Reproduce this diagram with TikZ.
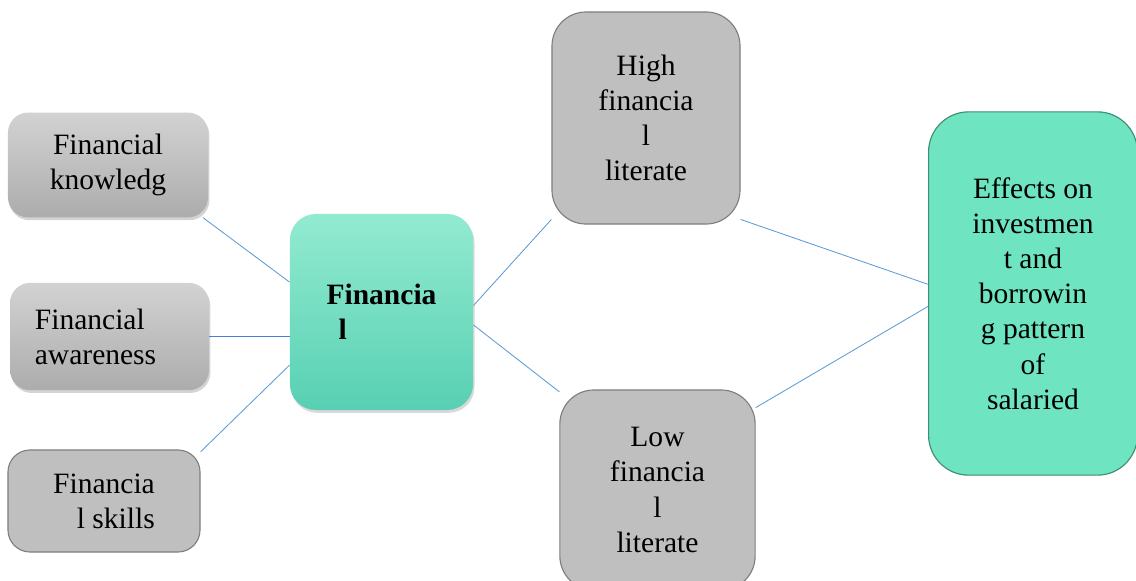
\documentclass[tikz,border=0pt]{standalone}
\usepackage{fontspec}
\setmainfont{Liberation Serif}
\usepackage{tikz}
\usetikzlibrary{shadows,backgrounds}
\definecolor{boxgray}{HTML}{BFBFBF}
\definecolor{edgegray}{HTML}{7F7F7F}
\definecolor{mint}{HTML}{6EE4C0}
\definecolor{mintedge}{HTML}{3E8E74}
\definecolor{linkblue}{HTML}{5B9BD5}
\tikzset{
  graybox/.style={fill=boxgray,draw=edgegray,line width=0.8pt,rounded corners=0.55cm,inner sep=0pt},
  shadebox/.style={top color=gray!35,bottom color=gray!65,rounded corners=0.5cm,inner sep=0pt,
    drop shadow={shadow xshift=1pt,shadow yshift=-2pt,opacity=0.35}},
  link/.style={draw=linkblue,line width=0.6pt}
}
\begin{document}
\begin{tikzpicture}[x=0.025cm,y=-0.025cm,font=\fontsize{21}{25}\selectfont]
  \useasboundingbox (0,0) rectangle (1136,580);
  \node[shadebox,minimum width=5cm,minimum height=2.62cm,align=center] (know) at (108,165) {Financial\\knowledg};
  \node[shadebox,inner xsep=0.62cm,text width=3.73cm,minimum height=2.68cm,align=left] (aware) at (109.5,336.5) {Financial\\awareness};
  \node[graybox,minimum width=4.8cm,minimum height=2.55cm,align=right] (skills) at (104,501) {Financia\\l skills};
  \node[top color=mint!75!white,bottom color=mint!80!teal,rounded corners=0.65cm,inner sep=0pt,
    minimum width=4.58cm,minimum height=4.9cm,align=left,font=\fontsize{21}{25}\selectfont\bfseries,
    drop shadow={shadow xshift=1pt,shadow yshift=-2pt,opacity=0.3}] (fin) at (381.5,312) {Financia\\\hspace{0.3cm}l};
  \node[graybox,rounded corners=0.85cm,minimum width=4.7cm,minimum height=5.3cm,align=center] (high) at (646,118) {High\\financia\\l\\literate};
  \node[graybox,rounded corners=0.85cm,minimum width=4.88cm,minimum height=5cm,align=center] (low) at (657.5,490) {Low\\financia\\l\\literate};
  \node[fill=mint,draw=mintedge,line width=0.8pt,rounded corners=1cm,inner sep=0pt,
    minimum width=5.22cm,minimum height=9.08cm,align=center] (eff) at (1033,293.5)
    {Effects on\\investmen\\t and\\borrowin\\g pattern\\of\\salaried};
  \begin{scope}[on background layer]
    \draw[link] (know.-29) -- (fin.162);
    \draw[link,draw=linkblue!80!blue] (aware.east) -- (aware.east -| fin.west);
    \draw[link] (skills.27) -- (fin.210);
    \draw[link] (fin.4) -- (high.227);
    \draw[link] (fin.-8) -- (low.135);
    \draw[link] (high.-47) -- (eff.175);
    \draw[link] (low.40) -- (eff.187);
  \end{scope}
\end{tikzpicture}
\end{document}
